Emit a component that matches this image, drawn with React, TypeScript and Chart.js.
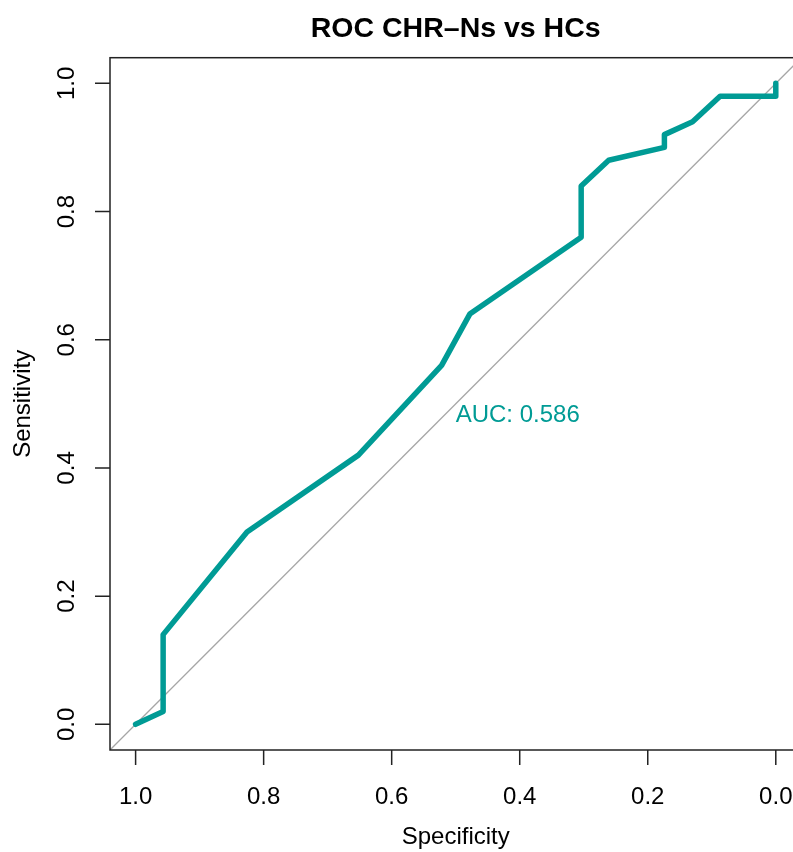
import React, { useEffect, useRef } from "react";
import { Chart, registerables } from "chart.js";

Chart.register(...registerables);

// ROC curve coordinates (specificity on a reversed x axis, sensitivity on y)
const specificity = [1.0, 0.957, 0.957, 0.826, 0.652, 0.522, 0.478, 0.304, 0.304, 0.261, 0.174, 0.174, 0.13, 0.087, 0.0, 0.0];
const sensitivity = [0.0, 0.02, 0.14, 0.3, 0.42, 0.56, 0.64, 0.76, 0.84, 0.88, 0.9, 0.92, 0.94, 0.98, 0.98, 1.0];

// chance (identity) line, spanning the plotting region
const chanceSpecificity = [1.04, -0.04];
const chanceSensitivity = [-0.04, 1.04];

const xTicks = [1.0, 0.8, 0.6, 0.4, 0.2, 0.0];
const xTickLabels = ["1.0", "0.8", "0.6", "0.4", "0.2", "0.0"];
const yTicks = [0.0, 0.2, 0.4, 0.6, 0.8, 1.0];
const yTickLabels = ["0.0", "0.2", "0.4", "0.6", "0.8", "1.0"];

const title = "ROC CHR\u2013Ns vs HCs";
const xTitle = "Specificity";
const yTitle = "Sensitivity";
const aucLabel = "AUC: 0.586";
const aucPos = { x: 0.5, y: 0.5 };

const TEAL = "#009B95";
const FONT = '"Liberation Sans", Arial, Helvetica, sans-serif';

const rocDecorations = {
  id: "rocDecorations",
  afterDraw(chart: any) {
    const { ctx, chartArea: a, scales } = chart;
    const x = scales.x;
    const y = scales.y;
    ctx.save();

    // frame around the plotting region
    ctx.strokeStyle = "#222";
    ctx.lineWidth = 1.5;
    ctx.strokeRect(a.left, a.top, a.right - a.left, a.bottom - a.top);

    // outward tick marks
    ctx.beginPath();
    xTicks.forEach((v) => {
      const px = x.getPixelForValue(v);
      ctx.moveTo(px, a.bottom);
      ctx.lineTo(px, a.bottom + 15);
    });
    yTicks.forEach((v) => {
      const py = y.getPixelForValue(v);
      ctx.moveTo(a.left, py);
      ctx.lineTo(a.left - 15, py);
    });
    ctx.stroke();

    ctx.fillStyle = "#000";
    ctx.font = `24px ${FONT}`;
    ctx.textAlign = "center";
    ctx.textBaseline = "alphabetic";
    xTicks.forEach((v, i) => {
      ctx.fillText(xTickLabels[i], x.getPixelForValue(v), a.bottom + 54);
    });
    yTicks.forEach((v, i) => {
      ctx.save();
      ctx.translate(a.left - 36, y.getPixelForValue(v));
      ctx.rotate(-Math.PI / 2);
      ctx.fillText(yTickLabels[i], 0, 0);
      ctx.restore();
    });

    const cx = (a.left + a.right) / 2;
    const cy = (a.top + a.bottom) / 2;
    ctx.fillText(xTitle, cx, a.bottom + 94);
    ctx.save();
    ctx.translate(30, cy);
    ctx.rotate(-Math.PI / 2);
    ctx.fillText(yTitle, 0, 0);
    ctx.restore();

    ctx.font = `bold 28.5px ${FONT}`;
    ctx.fillText(title, cx, 37);

    // AUC annotation
    ctx.font = `24px ${FONT}`;
    ctx.fillStyle = TEAL;
    ctx.textAlign = "left";
    ctx.fillText(aucLabel, x.getPixelForValue(aucPos.x), y.getPixelForValue(aucPos.y) + 18.5);

    ctx.restore();
  },
};

export default function App() {
  const canvasRef = useRef<HTMLCanvasElement | null>(null);

  useEffect(() => {
    document.body.style.margin = "0";
    const canvas = canvasRef.current;
    if (!canvas) return;

    const rocPoints = specificity.map((s, i) => ({ x: s, y: sensitivity[i] }));
    const chancePoints = chanceSpecificity.map((s, i) => ({ x: s, y: chanceSensitivity[i] }));

    const chart = new Chart(canvas, {
      type: "line",
      data: {
        datasets: [
          {
            label: "ROC",
            data: rocPoints,
            borderColor: TEAL,
            borderWidth: 5.5,
            borderJoinStyle: "round",
            borderCapStyle: "round",
            pointRadius: 0,
            tension: 0,
            fill: false,
            order: 0,
          },
          {
            label: "chance",
            data: chancePoints,
            borderColor: "#A6A6A6",
            borderWidth: 1.3,
            pointRadius: 0,
            tension: 0,
            fill: false,
            order: 1,
          },
        ],
      },
      options: {
        responsive: false,
        animation: false,
        devicePixelRatio: 1,
        parsing: false as any,
        layout: { padding: { left: 110, top: 57.7, right: 18.6, bottom: 102 } },
        scales: {
          x: { type: "linear", min: -0.04, max: 1.04, reverse: true, display: false },
          y: { type: "linear", min: -0.04, max: 1.04, display: false },
        },
        plugins: {
          legend: { display: false },
          tooltip: { enabled: false },
          title: { display: false },
        },
      },
      plugins: [rocDecorations],
    });

    return () => chart.destroy();
  }, []);

  return (
    <div style={{ width: 793, height: 852, overflow: "hidden", position: "relative", background: "#fff" }}>
      <canvas ref={canvasRef} width={820} height={852} style={{ width: 820, height: 852, display: "block" }} />
    </div>
  );
}
